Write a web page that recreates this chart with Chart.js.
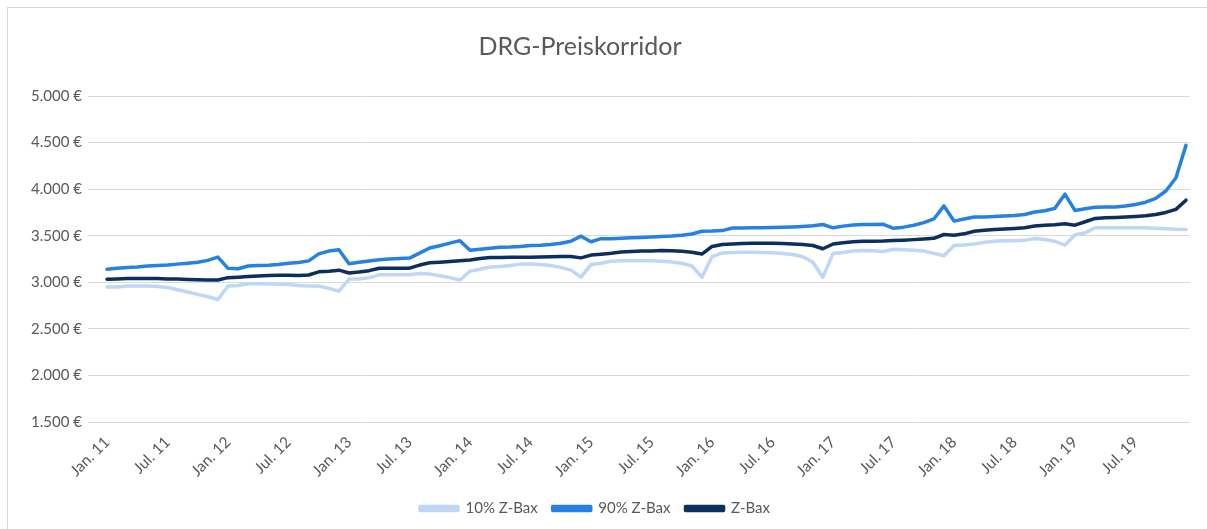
<!DOCTYPE html>
<html>
<head>
<meta charset="utf-8">
<script src="https://cdn.jsdelivr.net/npm/chart.js@4/dist/chart.umd.min.js"></script>
<style>
  html, body { margin: 0; padding: 0; background: #fff; }
  #frame { position: absolute; left: 7px; top: 7px; width: 1220px; height: 540px; border: 1px solid #d9d9d9; }
  #wrap { position: absolute; left: 0; top: 0; width: 1207px; height: 529px; }
</style>
</head>
<body>
<div id="frame"></div>
<div id="wrap"><canvas id="chart" width="1207" height="529"></canvas></div>
<script>
// Monthly values Jan. 11 ... Dec. 19 (108 months)
const p10 = [
  2950, 2950, 2960, 2960, 2960, 2955, 2945, 2920, 2895, 2870, 2845, 2815,
  2960, 2965, 2985, 2985, 2985, 2980, 2975, 2965, 2960, 2960, 2935, 2905,
  3035, 3035, 3050, 3080, 3080, 3080, 3080, 3095, 3090, 3070, 3050, 3025,
  3120, 3140, 3165, 3170, 3180, 3195, 3195, 3190, 3180, 3160, 3130, 3055,
  3190, 3205, 3225, 3230, 3232, 3232, 3230, 3225, 3218, 3205, 3175, 3055,
  3275, 3315, 3320, 3322, 3322, 3320, 3316, 3308, 3298, 3275, 3215, 3055,
  3310, 3320, 3335, 3340, 3338, 3330, 3355, 3350, 3345, 3335, 3310, 3285,
  3395, 3400, 3410, 3430, 3440, 3445, 3445, 3450, 3470, 3460, 3440, 3400,
  3510, 3530, 3585, 3585, 3585, 3585, 3585, 3585, 3580, 3575, 3570, 3568
];
const p90 = [
  3140, 3150, 3160, 3165, 3175, 3180, 3185, 3195, 3205, 3215, 3235, 3270,
  3150, 3145, 3175, 3180, 3182, 3190, 3205, 3212, 3230, 3305, 3335, 3350,
  3200, 3215, 3228, 3242, 3250, 3255, 3260, 3313, 3368, 3393, 3420, 3447,
  3345, 3355, 3365, 3375, 3378, 3385, 3395, 3398, 3405, 3420, 3440, 3495,
  3435, 3468, 3468, 3472, 3478, 3482, 3487, 3492, 3497, 3505, 3518, 3548,
  3550, 3555, 3582, 3584, 3585, 3586, 3588, 3590, 3594, 3600, 3607, 3620,
  3585, 3603, 3615, 3620, 3620, 3622, 3580, 3592, 3612, 3640, 3680, 3820,
  3657, 3680, 3700, 3702, 3705, 3712, 3718, 3728, 3755, 3768, 3794, 3946,
  3770, 3790, 3805, 3808, 3808, 3820, 3835, 3860, 3900, 3980, 4120, 4470
];
const zbax = [
  3032, 3036, 3040, 3040, 3040, 3040, 3036, 3034, 3030, 3028, 3025, 3025,
  3050, 3055, 3062, 3068, 3072, 3075, 3075, 3072, 3078, 3112, 3118, 3130,
  3100, 3110, 3125, 3150, 3150, 3150, 3152, 3185, 3210, 3215, 3222, 3230,
  3240, 3255, 3265, 3266, 3268, 3270, 3270, 3272, 3275, 3276, 3276, 3262,
  3292, 3302, 3312, 3325, 3330, 3335, 3336, 3340, 3338, 3333, 3322, 3303,
  3385, 3405, 3412, 3416, 3418, 3420, 3420, 3417, 3412, 3405, 3395, 3360,
  3411, 3425, 3435, 3440, 3440, 3442, 3448, 3452, 3458, 3466, 3472, 3513,
  3505, 3520, 3548, 3558, 3566, 3572, 3578, 3585, 3605, 3612, 3618, 3628,
  3613, 3650, 3686, 3692, 3696, 3700, 3706, 3714, 3728, 3750, 3783, 3881
];

// x tick labels, one every 6 months
const tickLabels = [
  'Jan. 11', 'Jul. 11', 'Jan. 12', 'Jul. 12', 'Jan. 13', 'Jul. 13',
  'Jan. 14', 'Jul. 14', 'Jan. 15', 'Jul. 15', 'Jan. 16', 'Jul. 16',
  'Jan. 17', 'Jul. 17', 'Jan. 18', 'Jul. 18', 'Jan. 19', 'Jul. 19'
];
const seriesNames = ['10% Z-Bax', '90% Z-Bax', 'Z-Bax'];
const seriesColors = ['#bdd7f5', '#2581e3', '#0d2f5f'];

const textColor = '#595959';
const fontFamily = 'Lato, "Open Sans", sans-serif';

function toPoints(arr) {
  return arr.map((v, i) => ({ x: i, y: v }));
}

function euro(v) {
  const th = Math.floor(v / 1000);
  const rest = String(v % 1000).padStart(3, '0');
  return th + '.' + rest + ' €';
}

// title drawn over the chart (centred like the original, not on the canvas)
const titlePlugin = {
  id: 'drgTitle',
  afterDraw(chart) {
    const ctx = chart.ctx;
    ctx.save();
    ctx.font = '25px ' + fontFamily;
    ctx.fillStyle = textColor;
    ctx.textAlign = 'center';
    ctx.textBaseline = 'middle';
    ctx.fillText('DRG-Preiskorridor', 580, 47);
    ctx.restore();
  }
};

const datasets = [p10, p90, zbax].map((arr, k) => ({
  label: seriesNames[k],
  data: toPoints(arr),
  borderColor: seriesColors[k],
  backgroundColor: seriesColors[k],
  borderWidth: 3.5,
  pointRadius: 0,
  tension: 0,
  borderCapStyle: 'round',
  borderJoinStyle: 'round'
}));

new Chart(document.getElementById('chart'), {
  type: 'line',
  data: { datasets: datasets },
  plugins: [titlePlugin],
  options: {
    responsive: false,
    animation: false,
    layout: { padding: { top: 96, right: 17, left: 0, bottom: 3 } },
    scales: {
      x: {
        type: 'linear',
        min: -1.884,
        max: 107.4,
        afterFit(scale) { scale.height = 64; },
        grid: { display: false },
        border: { display: false },
        ticks: {
          stepSize: 6,
          includeBounds: false,
          autoSkip: false,
          minRotation: 45,
          maxRotation: 45,
          padding: 3,
          color: textColor,
          font: { family: fontFamily, size: 15.5 },
          callback: (v) => (v % 6 === 0 && v >= 0) ? tickLabels[v / 6] : ''
        }
      },
      y: {
        min: 1500,
        max: 5000,
        afterFit(scale) { scale.width = 88; },
        grid: { color: '#d9d9d9', lineWidth: 1, drawTicks: false },
        border: { display: false },
        ticks: {
          stepSize: 500,
          padding: 6,
          color: textColor,
          font: { family: fontFamily, size: 15 },
          callback: (v) => euro(v)
        }
      }
    },
    plugins: {
      title: { display: false },
      tooltip: { enabled: false },
      legend: {
        position: 'bottom',
        labels: {
          boxWidth: 38,
          boxHeight: 4,
          borderRadius: 2,
          padding: 15,
          color: textColor,
          font: { family: fontFamily, size: 15 }
        }
      }
    }
  }
});
</script>
</body>
</html>
